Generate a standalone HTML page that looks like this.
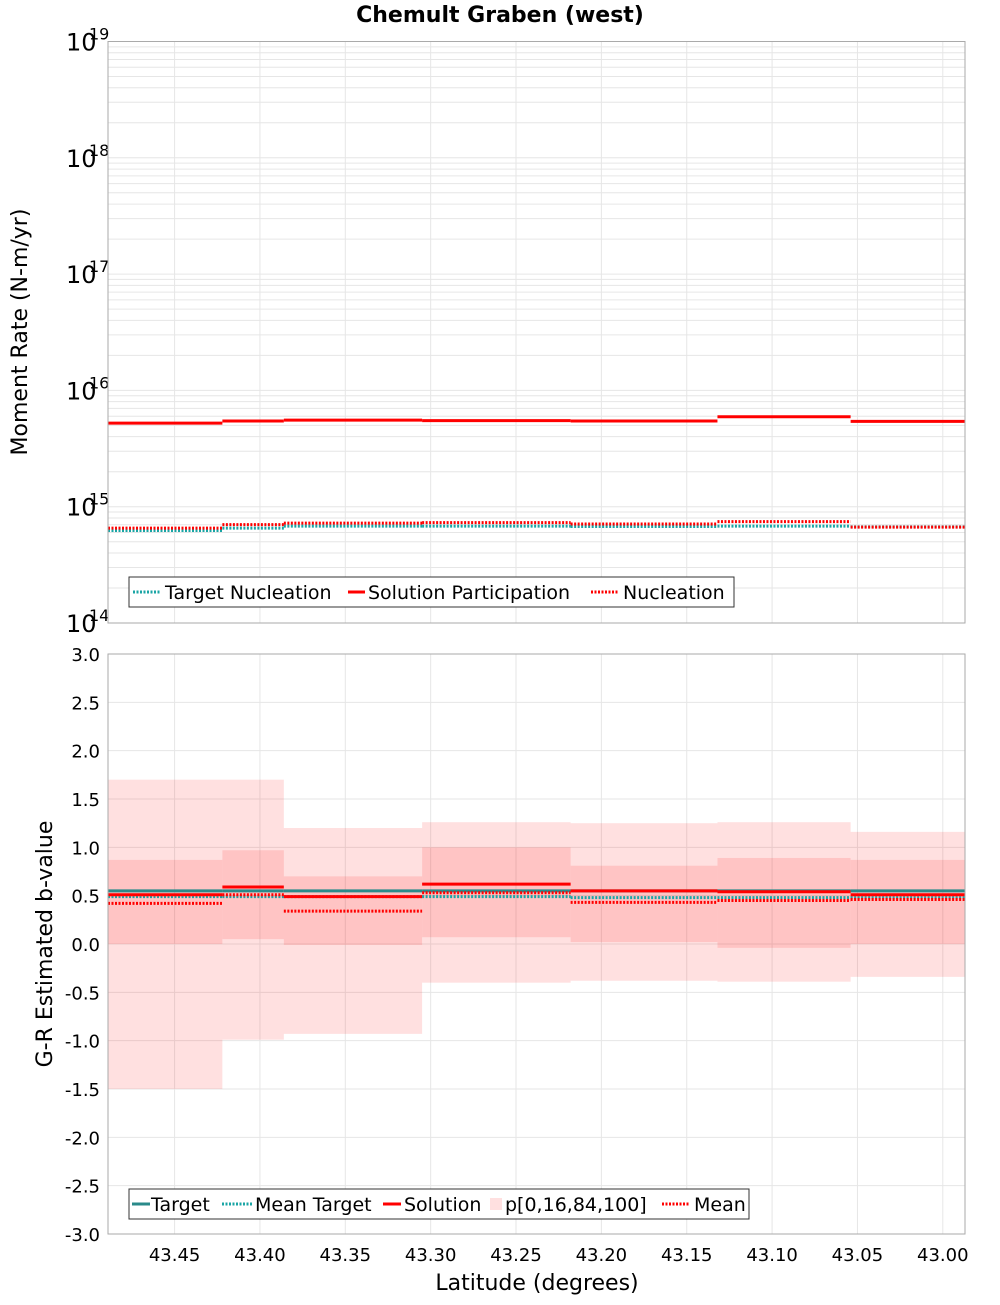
<!DOCTYPE html>
<html><head><meta charset="utf-8"><style>
body{margin:0;background:#fff;}
svg{font-family:"DejaVu Sans","Liberation Sans",sans-serif;}
</style></head><body>
<svg id="c" width="1000" height="1300" xmlns="http://www.w3.org/2000/svg">
<text x="500" y="22" text-anchor="middle" font-size="22" font-weight="bold">Chemult Graben (west)</text>
<g id="topg"></g><g id="botg"></g>
<text x="537" y="1290" text-anchor="middle" font-size="22">Latitude (degrees)</text>
<text transform="translate(27,332) rotate(-90)" text-anchor="middle" font-size="22">Moment Rate (N-m/yr)</text>
<text transform="translate(52,944) rotate(-90)" text-anchor="middle" font-size="22">G-R Estimated b-value</text>
</svg>
<script>
const binEdges=[43.489,43.422,43.386,43.305,43.218,43.132,43.054,42.987];
const xTicks=[43.45,43.40,43.35,43.30,43.25,43.20,43.15,43.10,43.05,43.00];
const solPart=[5.23e15,5.45e15,5.55e15,5.5e15,5.45e15,5.94e15,5.42e15];
const nucl=[6.55e14,7.02e14,7.23e14,7.3e14,7.1e14,7.45e14,6.67e14];
const targetNucl=[6.25e14,6.55e14,6.8e14,6.8e14,6.75e14,6.8e14,6.7e14];
const p0=[-1.5,-0.99,-0.93,-0.40,-0.38,-0.39,-0.34];
const p16=[0,0.05,-0.01,0.07,0.02,-0.04,0.0];
const p84=[0.87,0.97,0.70,1.00,0.81,0.89,0.87];
const p100=[1.70,1.70,1.20,1.26,1.25,1.26,1.16];
const solution=[0.51,0.59,0.49,0.62,0.55,0.54,0.51];
const meanB=[0.42,0.51,0.34,0.53,0.43,0.45,0.46];
const targetB=[0.55,0.55,0.55,0.55,0.55,0.55,0.55];
const meanTarget=[0.49,0.49,0.49,0.49,0.48,0.48,0.48];
const bTicks=[3,2.5,2,1.5,1,0.5,0,-0.5,-1,-1.5,-2,-2.5,-3];

const NS='http://www.w3.org/2000/svg';
const L=108,R=965;
const X=v=>L+(binEdges[0]-v)/(binEdges[0]-binEdges[binEdges.length-1])*(R-L);
const T0=41.5,T1=623;
const YT=v=>T1-(Math.log10(v)-14)/5*(T1-T0);
const B0=654,B1=1234;
const YB=v=>B0+(3-v)/6*(B1-B0);
function el(p,t,a){const e=document.createElementNS(NS,t);for(const k in a)e.setAttribute(k,a[k]);p.appendChild(e);return e;}
const topG=document.getElementById('topg'),botG=document.getElementById('botg');

for(let d=14;d<19;d++)for(let m=1;m<10;m++){const y=YT(m*Math.pow(10,d));
 const g=el(topG,'line',{x1:L,x2:R,y1:y,y2:y,stroke:'#e6e6e6','stroke-width':1});
 
 }
for(const t of xTicks){const x=X(t);
 const g=el(topG,'line',{x1:x,x2:x,y1:T0,y2:T1,stroke:'#e6e6e6'});
 
 
 const g2=el(botG,'line',{x1:x,x2:x,y1:B0,y2:B1,stroke:'#e6e6e6'});
 
 
 const tx=el(botG,'text',{x:x,y:1261,'text-anchor':'middle','font-size':18});
 tx.textContent=t.toFixed(2);
 
 }
for(let d=14;d<=19;d++){const y=YT(Math.pow(10,d));
 const t=el(topG,'text',{x:66,y:y+9,'font-size':24});t.textContent='10';
 
 
 const e=el(topG,'text',{x:89,y:y-2,'font-size':16});e.textContent=String(d);
 
 }
function steps(p,arr,Y,col,w,dash,name){for(let i=0;i<arr.length;i++){
 const a={x1:X(binEdges[i]),x2:X(binEdges[i+1]),y1:Y(arr[i]),y2:Y(arr[i]),stroke:col,'stroke-width':w};
 if(dash)a['stroke-dasharray']=dash;const l=el(p,'line',a);
 
 }}
steps(topG,targetNucl,YT,'#1aa5a5',3,'2,1.5','target-nucleation-line');
steps(topG,solPart,YT,'#ff0000',3,null,'solution-participation-line');
steps(topG,nucl,YT,'#ff0000',3,'2,1.5','nucleation-line');
el(topG,'rect',{x:L,y:T0,width:R-L,height:T1-T0,fill:'none',stroke:'#aaa'});

for(const t of bTicks){const y=YB(t);
 const g=el(botG,'line',{x1:L,x2:R,y1:y,y2:y,stroke:'#e6e6e6'});
 
 
 const tx=el(botG,'text',{x:100,y:y+7,'text-anchor':'end','font-size':18});
 tx.textContent=t.toFixed(1);
 
 }
for(let i=0;i<p0.length;i++){const x=X(binEdges[i]),w=X(binEdges[i+1])-x;
 const r=el(botG,'rect',{x:x,y:YB(p100[i]),width:w,height:YB(p0[i])-YB(p100[i]),fill:'rgba(255,0,0,0.12)'});
 
 
 const r2=el(botG,'rect',{x:x,y:YB(p84[i]),width:w,height:YB(p16[i])-YB(p84[i]),fill:'rgba(255,0,0,0.12)'});
 
 }
steps(botG,targetB,YB,'#2a8a8a',3,null,'target-line');
steps(botG,meanTarget,YB,'#1aa5a5',3,'2,1.5','mean-target-line');
steps(botG,solution,YB,'#ff0000',3,null,'solution-line');
steps(botG,meanB,YB,'#ff0000',3,'2,1.5','mean-line');
el(botG,'rect',{x:L,y:B0,width:R-L,height:B1-B0,fill:'none',stroke:'#aaa'});
</script>
<svg style="position:absolute;left:0;top:0" width="1000" height="1300" xmlns="http://www.w3.org/2000/svg" font-family="DejaVu Sans, Liberation Sans, sans-serif" font-size="19">
<g>
<rect x="129" y="577" width="605" height="30" fill="#fff" stroke="#333"/>
<line x1="133" x2="161" y1="592" y2="592" stroke="#1aa5a5" stroke-width="3" stroke-dasharray="2,1.5"/>
<text x="165" y="599">Target Nucleation</text>
<line x1="348" x2="365" y1="592" y2="592" stroke="#f00" stroke-width="3"/>
<text x="368" y="599">Solution Participation</text>
<line x1="591" x2="619" y1="592" y2="592" stroke="#f00" stroke-width="3" stroke-dasharray="2,1.5"/>
<text x="623" y="599">Nucleation</text>
</g>
<g>
<rect x="129" y="1189" width="620" height="30" fill="#fff" stroke="#333"/>
<line x1="132" x2="150" y1="1204" y2="1204" stroke="#2a8a8a" stroke-width="3"/>
<text x="151" y="1211">Target</text>
<line x1="222" x2="252" y1="1204" y2="1204" stroke="#1aa5a5" stroke-width="3" stroke-dasharray="2,1.5"/>
<text x="255" y="1211">Mean Target</text>
<line x1="383" x2="401" y1="1204" y2="1204" stroke="#f00" stroke-width="3"/>
<text x="404" y="1211">Solution</text>
<rect x="490" y="1198" width="12" height="12" fill="rgba(255,0,0,0.12)"/>
<text x="505" y="1211">p[0,16,84,100]</text>
<line x1="662" x2="690" y1="1204" y2="1204" stroke="#f00" stroke-width="3" stroke-dasharray="2,1.5"/>
<text x="694" y="1211">Mean</text>
</g>
</svg>
</body></html>
